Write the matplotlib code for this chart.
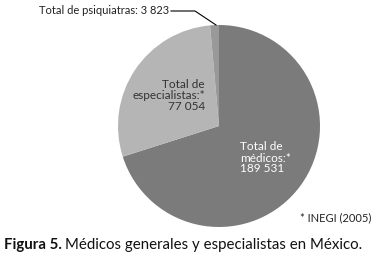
import matplotlib
matplotlib.use('Agg')
import matplotlib.pyplot as plt

labels = ['Total de\nmédicos:*\n189 531', 'Total de\nespecialistas:*\n77 054', 'Total de psiquiatras: 3 823']
values = [189531, 77054, 3823]
colors = ['#7b7b7b', '#b5b5b5', '#999999']

W, H = 374, 265
fig = plt.figure(figsize=(W / 100, H / 100), dpi=100)
plt.rcParams['font.family'] = ['Lato', 'DejaVu Sans']

cx, cy, r = 219, 126, 101
ax = fig.add_axes([(cx - r) / W, 1 - (cy + r) / H, 2 * r / W, 2 * r / H])
ax.pie(values, colors=colors, startangle=90, counterclock=False, radius=1,
       wedgeprops=dict(linewidth=0))
ax.set_xlim(-1, 1)
ax.set_ylim(-1, 1)
ax.set_aspect('equal')
ax.axis('off')

def fx(x):
    return x / W

def fy(y):
    return 1 - y / H

fig.text(fx(240), fy(158), labels[0], color='white', fontsize=8.5, ha='left', va='center',
         linespacing=1.0)
fig.text(fx(205), fy(96), labels[1], color='#333333', fontsize=8.5, ha='right', va='center',
         linespacing=1.0)
fig.text(fx(169), fy(11), labels[2], color='#222222', fontsize=8, ha='right', va='center')
fig.add_artist(plt.Line2D([fx(171), fx(195), fx(216)], [fy(11), fy(11), fy(25)],
                          color='black', linewidth=0.8))

fig.text(fx(371), fy(218), '* INEGI (2005)', color='#222222', fontsize=8, ha='right', va='center')
t1 = fig.text(fx(4), fy(245), 'Figura 5.', fontsize=10.8, fontweight='bold', color='#111111',
              ha='left', va='center')
fig.canvas.draw()
bb = t1.get_window_extent()
fig.text(bb.x1 / W + 3 / W, fy(245), 'Médicos generales y especialistas en México.',
         fontsize=10.8, color='#111111', ha='left', va='center')

fig.savefig('out.png', dpi=100)
